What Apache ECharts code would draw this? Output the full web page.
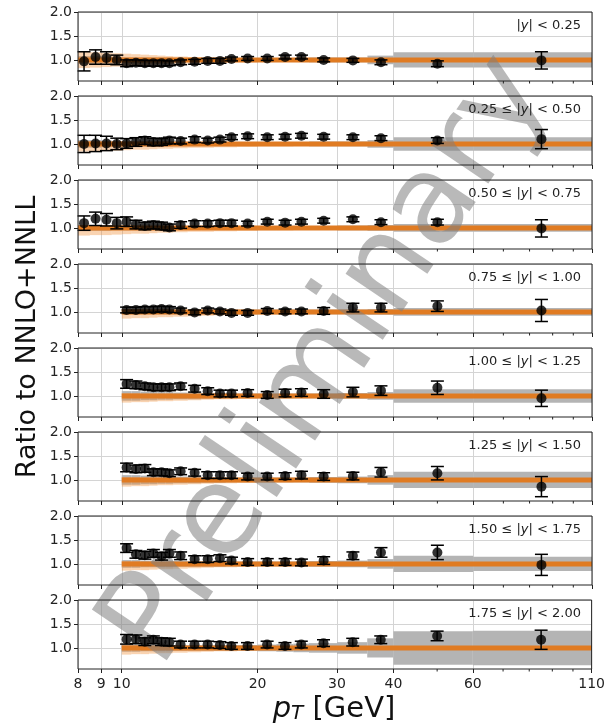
<!DOCTYPE html>
<html>
<head>
<meta charset="utf-8">
<script src="https://cdn.jsdelivr.net/npm/echarts@6/dist/echarts.min.js"></script>
<style>
html, body { margin: 0; padding: 0; background: #fff; }
#chart { width: 608px; height: 727px; }
</style>
</head>
<body>
<div id="chart"></div>
<script>
// pT bin edges (GeV)
var ptEdges = [8, 8.5, 9, 9.5, 10, 10.5, 11, 11.5, 12, 12.5, 13, 14, 15, 16, 17, 18, 20, 22, 24, 26, 30, 35, 40, 60, 110];
var xTicks = [8, 9, 10, 20, 30, 40, 60, 110];
var xMinorTicks = [50, 70, 80, 90, 100];
var yTicks = [1.0, 1.5, 2.0];

var rapidityLabels = [
    '{n||}{i|y}{n|| < 0.25}',
    '{n|0.25 ≤ |}{i|y}{n|| < 0.50}',
    '{n|0.50 ≤ |}{i|y}{n|| < 0.75}',
    '{n|0.75 ≤ |}{i|y}{n|| < 1.00}',
    '{n|1.00 ≤ |}{i|y}{n|| < 1.25}',
    '{n|1.25 ≤ |}{i|y}{n|| < 1.50}',
    '{n|1.50 ≤ |}{i|y}{n|| < 1.75}',
    '{n|1.75 ≤ |}{i|y}{n|| < 2.00}'
];
// index of first pT bin in each panel
var firstBin = [0, 0, 0, 4, 4, 4, 4, 4];

// data / theory ratio and stat. errors
var ratio1 = [0.97, 1.06, 1.04, 1.00, 0.93, 0.94, 0.93, 0.93, 0.93, 0.93, 0.95, 0.96, 0.98, 0.98, 1.02, 1.03, 1.03, 1.06, 1.06, 1.00, 0.99, 0.95, 0.92, 0.99];
var err1   = [0.20, 0.15, 0.13, 0.10, 0.07, 0.06, 0.06, 0.06, 0.06, 0.05, 0.05, 0.05, 0.05, 0.05, 0.04, 0.04, 0.04, 0.04, 0.04, 0.04, 0.04, 0.05, 0.06, 0.18];
var ratio2 = [1.00, 1.01, 1.01, 1.00, 1.01, 1.04, 1.07, 1.04, 1.04, 1.07, 1.06, 1.09, 1.07, 1.09, 1.14, 1.16, 1.14, 1.15, 1.17, 1.15, 1.14, 1.12, 1.07, 1.10];
var err2   = [0.18, 0.17, 0.15, 0.12, 0.10, 0.09, 0.08, 0.08, 0.07, 0.07, 0.06, 0.06, 0.05, 0.05, 0.05, 0.05, 0.05, 0.05, 0.05, 0.05, 0.05, 0.05, 0.06, 0.20];
var ratio3 = [1.10, 1.19, 1.17, 1.10, 1.13, 1.07, 1.04, 1.06, 1.04, 1.01, 1.06, 1.09, 1.09, 1.10, 1.10, 1.09, 1.13, 1.11, 1.13, 1.15, 1.18, 1.12, 1.12, 0.99];
var err3   = [0.15, 0.14, 0.13, 0.12, 0.10, 0.09, 0.08, 0.08, 0.08, 0.07, 0.07, 0.06, 0.06, 0.06, 0.06, 0.05, 0.05, 0.05, 0.05, 0.05, 0.05, 0.05, 0.06, 0.18];
var ratio4 = [1.04, 1.04, 1.05, 1.05, 1.06, 1.05, 1.03, 0.99, 1.03, 1.01, 0.98, 0.98, 1.02, 1.01, 1.01, 1.02, 1.09, 1.09, 1.12, 1.03];
var err4   = [0.06, 0.06, 0.06, 0.06, 0.06, 0.06, 0.05, 0.05, 0.05, 0.05, 0.05, 0.05, 0.05, 0.05, 0.05, 0.07, 0.09, 0.09, 0.11, 0.23];
var ratio5 = [1.25, 1.23, 1.20, 1.18, 1.18, 1.18, 1.20, 1.15, 1.10, 1.05, 1.05, 1.06, 1.02, 1.06, 1.07, 1.04, 1.08, 1.11, 1.17, 0.95];
var err5   = [0.09, 0.08, 0.07, 0.07, 0.07, 0.07, 0.07, 0.07, 0.07, 0.07, 0.07, 0.07, 0.07, 0.08, 0.08, 0.09, 0.10, 0.10, 0.14, 0.17];
var ratio6 = [1.26, 1.23, 1.24, 1.16, 1.16, 1.14, 1.18, 1.15, 1.10, 1.10, 1.10, 1.07, 1.07, 1.08, 1.10, 1.07, 1.08, 1.16, 1.14, 0.86];
var err6   = [0.09, 0.08, 0.08, 0.07, 0.07, 0.07, 0.07, 0.07, 0.07, 0.07, 0.07, 0.07, 0.07, 0.07, 0.08, 0.08, 0.08, 0.10, 0.14, 0.21];
var ratio7 = [1.33, 1.20, 1.18, 1.22, 1.16, 1.22, 1.17, 1.10, 1.10, 1.12, 1.07, 1.04, 1.04, 1.04, 1.03, 1.07, 1.17, 1.24, 1.24, 0.98];
var err7   = [0.09, 0.08, 0.08, 0.08, 0.08, 0.08, 0.08, 0.07, 0.07, 0.07, 0.07, 0.07, 0.07, 0.07, 0.07, 0.08, 0.08, 0.10, 0.15, 0.22];
var ratio8 = [1.18, 1.18, 1.13, 1.17, 1.13, 1.12, 1.07, 1.07, 1.07, 1.06, 1.04, 1.04, 1.07, 1.04, 1.07, 1.10, 1.12, 1.17, 1.25, 1.17];
var err8   = [0.10, 0.09, 0.08, 0.08, 0.08, 0.08, 0.07, 0.07, 0.07, 0.07, 0.07, 0.07, 0.07, 0.07, 0.07, 0.07, 0.08, 0.08, 0.10, 0.20];

// systematic uncertainty (grey band, half width around 1)
var sys1 = [0.08, 0.08, 0.07, 0.06, 0.05, 0.05, 0.05, 0.05, 0.05, 0.05, 0.04, 0.04, 0.04, 0.04, 0.04, 0.04, 0.04, 0.04, 0.04, 0.05, 0.05, 0.09, 0.16, 0.16];
var sys2 = [0.08, 0.08, 0.07, 0.06, 0.05, 0.05, 0.05, 0.05, 0.05, 0.05, 0.04, 0.04, 0.04, 0.04, 0.04, 0.04, 0.04, 0.04, 0.04, 0.05, 0.05, 0.08, 0.14, 0.14];
var sys3 = [0.06, 0.06, 0.06, 0.05, 0.05, 0.05, 0.04, 0.04, 0.04, 0.04, 0.04, 0.04, 0.04, 0.04, 0.04, 0.04, 0.04, 0.04, 0.04, 0.04, 0.05, 0.06, 0.08, 0.08];
var sys4 = [0.06, 0.06, 0.05, 0.05, 0.05, 0.05, 0.05, 0.05, 0.05, 0.05, 0.05, 0.05, 0.05, 0.05, 0.05, 0.05, 0.05, 0.06, 0.08, 0.08];
var sys5 = [0.10, 0.10, 0.09, 0.09, 0.08, 0.08, 0.07, 0.07, 0.06, 0.06, 0.05, 0.05, 0.05, 0.05, 0.05, 0.05, 0.06, 0.08, 0.14, 0.14];
var sys6 = [0.10, 0.10, 0.09, 0.09, 0.08, 0.08, 0.07, 0.07, 0.06, 0.06, 0.05, 0.05, 0.05, 0.05, 0.05, 0.06, 0.07, 0.10, 0.17, 0.17];
var sys7 = [0.08, 0.08, 0.07, 0.07, 0.07, 0.07, 0.06, 0.06, 0.06, 0.06, 0.05, 0.05, 0.05, 0.05, 0.05, 0.06, 0.07, 0.10, 0.17, 0.15];
var sys8 = [0.08, 0.08, 0.07, 0.07, 0.07, 0.07, 0.06, 0.06, 0.06, 0.06, 0.06, 0.06, 0.07, 0.08, 0.09, 0.10, 0.12, 0.20, 0.35, 0.36];

// theory uncertainty (orange band, offsets below / above 1)
var thUp1   = [0.17, 0.16, 0.15, 0.14, 0.13, 0.12, 0.11, 0.10, 0.09, 0.08, 0.07, 0.06, 0.05, 0.05, 0.04, 0.04, 0.03, 0.03, 0.03, 0.03, 0.03, 0.03, 0.03, 0.03];
var thDown1 = [0.17, 0.16, 0.15, 0.14, 0.13, 0.12, 0.11, 0.10, 0.09, 0.09, 0.08, 0.07, 0.06, 0.06, 0.05, 0.05, 0.04, 0.04, 0.03, 0.03, 0.03, 0.03, 0.03, 0.03];
var thUp23   = [0.06, 0.06, 0.05, 0.05, 0.05, 0.05, 0.04, 0.04, 0.04, 0.04, 0.04, 0.03, 0.03, 0.03, 0.03, 0.03, 0.03, 0.03, 0.03, 0.03, 0.03, 0.03, 0.03, 0.03];
var thDown23 = [0.16, 0.15, 0.15, 0.14, 0.13, 0.12, 0.12, 0.11, 0.10, 0.10, 0.09, 0.08, 0.08, 0.07, 0.07, 0.06, 0.05, 0.05, 0.04, 0.04, 0.03, 0.03, 0.03, 0.03];
var thUpB   = [0.06, 0.06, 0.05, 0.05, 0.05, 0.05, 0.04, 0.04, 0.04, 0.04, 0.04, 0.03, 0.03, 0.03, 0.03, 0.03, 0.03, 0.03, 0.03, 0.03];
var thDownB = [0.14, 0.13, 0.13, 0.12, 0.11, 0.11, 0.10, 0.09, 0.08, 0.07, 0.07, 0.06, 0.05, 0.05, 0.04, 0.04, 0.03, 0.03, 0.03, 0.03];

var panels = [
    { ratio: ratio1, err: err1, sys: sys1, up: thUp1, down: thDown1 },
    { ratio: ratio2, err: err2, sys: sys2, up: thUp23, down: thDown23 },
    { ratio: ratio3, err: err3, sys: sys3, up: thUp23, down: thDown23 },
    { ratio: ratio4, err: err4, sys: sys4, up: thUpB, down: thDownB },
    { ratio: ratio5, err: err5, sys: sys5, up: thUpB, down: thDownB },
    { ratio: ratio6, err: err6, sys: sys6, up: thUpB, down: thDownB },
    { ratio: ratio7, err: err7, sys: sys7, up: thUpB, down: thDownB },
    { ratio: ratio8, err: err8, sys: sys8, up: thUpB, down: thDownB }
];

var Y_MIN = 0.56, Y_MAX = 2.0;
var FONT = '"DejaVu Sans", sans-serif';
var log10 = function(v) { return Math.log(v) / Math.LN10; };

var bandItem = function(color) {
    return function(params, api) {
        var a = api.coord([api.value(0), api.value(3)]);
        var b = api.coord([api.value(1), api.value(2)]);
        return {
            type: 'rect',
            shape: { x: a[0], y: a[1], width: b[0] - a[0], height: b[1] - a[1] },
            style: { fill: color }
        };
    };
};

var errorItem = function(params, api) {
    var x = api.value(0), y = api.value(1), e = api.value(2);
    var t = api.coord([x, y + e]), b = api.coord([x, y - e]);
    var cw = 6.5;
    var st = { stroke: '#000', lineWidth: 1.5 };
    return {
        type: 'group',
        children: [
            { type: 'line', shape: { x1: t[0], y1: t[1], x2: b[0], y2: b[1] }, style: st },
            { type: 'line', shape: { x1: t[0] - cw, y1: t[1], x2: t[0] + cw, y2: t[1] }, style: st },
            { type: 'line', shape: { x1: b[0] - cw, y1: b[1], x2: b[0] + cw, y2: b[1] }, style: st }
        ]
    };
};

var grids = [], xAxes = [], yAxes = [], titles = [], series = [];

panels.forEach(function(p, i) {
    var top = 12 + i * 84;
    grids.push({ left: 78, right: 16, top: top, height: 69 });

    xAxes.push({
        gridIndex: i, type: 'value', min: log10(8), max: log10(110),
        axisLine: { show: false },
        axisTick: { show: true, length: 4, customValues: xTicks.map(log10), lineStyle: { color: '#222' } },
        axisLabel: {
            show: i === panels.length - 1, customValues: xTicks.map(log10),
            formatter: function(v) { return String(Math.round(Math.pow(10, v))); },
            fontSize: 14, color: '#222', margin: 8, fontFamily: FONT
        },
        splitLine: { show: true, lineStyle: { color: '#d4d4d4', width: 1 } }
    });
    yAxes.push({
        gridIndex: i, type: 'value', min: Y_MIN, max: Y_MAX,
        axisLine: { show: false },
        axisTick: { show: true, length: 4, customValues: yTicks, lineStyle: { color: '#222' } },
        axisLabel: {
            customValues: yTicks,
            formatter: function(v) { return v.toFixed(1); },
            fontSize: 14, color: '#222', margin: 6, fontFamily: FONT
        },
        splitLine: { show: true, lineStyle: { color: '#d4d4d4', width: 1 } }
    });

    titles.push({
        text: rapidityLabels[i], right: 27, top: top + 7, padding: 0,
        textStyle: {
            fontWeight: 'normal',
            rich: {
                n: { fontSize: 13, fontFamily: FONT, fontWeight: 'normal', color: '#222' },
                i: { fontSize: 13, fontFamily: FONT, fontWeight: 'normal', fontStyle: 'italic', color: '#222' }
            }
        }
    });

    var sysData = [], thData = [], errData = [], ptData = [];
    for (var j = 0; j < p.ratio.length; j++) {
        var lo = ptEdges[firstBin[i] + j], hi = ptEdges[firstBin[i] + j + 1];
        var xc = log10((lo + hi) / 2);
        sysData.push([log10(lo), log10(hi), 1 - p.sys[j], 1 + p.sys[j]]);
        thData.push([log10(lo), log10(hi), 1 - p.down[j], 1 + p.up[j]]);
        errData.push([xc, p.ratio[j], p.err[j]]);
        ptData.push([xc, p.ratio[j]]);
    }

    series.push({
        type: 'custom', xAxisIndex: i, yAxisIndex: i, z: 1, silent: true,
        renderItem: bandItem('#b4b4b4'), encode: { x: [0, 1], y: [2, 3] }, data: sysData
    });
    series.push({
        type: 'custom', xAxisIndex: i, yAxisIndex: i, z: 2, silent: true,
        renderItem: bandItem('rgba(240,140,50,0.38)'), encode: { x: [0, 1], y: [2, 3] }, data: thData
    });
    series.push({
        type: 'line', xAxisIndex: i, yAxisIndex: i, z: 3, silent: true, symbol: 'none',
        lineStyle: { color: '#e07b22', width: 5 },
        data: [[log10(ptEdges[firstBin[i]]), 1], [log10(110), 1]]
    });
    series.push({
        type: 'custom', xAxisIndex: i, yAxisIndex: i, z: 5, silent: true,
        renderItem: errorItem, encode: { x: 0, y: 1 }, data: errData
    });
    series.push({
        type: 'scatter', xAxisIndex: i, yAxisIndex: i, z: 6, silent: true,
        symbol: 'circle', symbolSize: 10, itemStyle: { color: '#000' }, data: ptData
    });
    // minor ticks on the log axis
    series.push({
        type: 'custom', xAxisIndex: i, yAxisIndex: i, z: 7, silent: true,
        renderItem: function(params, api) {
            var c = api.coord([api.value(0), Y_MIN]);
            return { type: 'line', shape: { x1: c[0], y1: c[1], x2: c[0], y2: c[1] + 2.5 }, style: { stroke: '#222', lineWidth: 1 } };
        },
        data: xMinorTicks.map(function(v) { return [log10(v), Y_MIN]; })
    });
    // frame on top of the bands
    series.push({
        type: 'custom', xAxisIndex: i, yAxisIndex: i, z: 8, silent: true,
        renderItem: function(params) {
            var c = params.coordSys;
            return { type: 'rect', shape: { x: c.x, y: c.y, width: c.width, height: c.height }, style: { fill: null, stroke: '#222', lineWidth: 1 } };
        },
        data: [[log10(8), Y_MIN]]
    });
});

var chart = echarts.init(document.getElementById('chart'), null, { renderer: 'canvas' });
chart.setOption({
    animation: false,
    backgroundColor: '#fff',
    title: titles,
    grid: grids,
    xAxis: xAxes,
    yAxis: yAxes,
    series: series,
    graphic: [
        {
            type: 'text', x: 28, y: 337, rotation: Math.PI / 2,
            style: { text: 'Ratio to NNLO+NNLL', fontSize: 27, fontFamily: FONT, fill: '#111', align: 'center', verticalAlign: 'middle' }
        },
        {
            type: 'text', x: 334, y: 709,
            style: {
                text: '{p|p}{t|T}{n| [GeV]}', align: 'center', verticalAlign: 'middle',
                rich: {
                    p: { fontSize: 29, fontFamily: FONT, fontStyle: 'italic', fill: '#111' },
                    t: { fontSize: 20, fontFamily: FONT, fontStyle: 'italic', fill: '#111', verticalAlign: 'bottom' },
                    n: { fontSize: 29, fontFamily: FONT, fill: '#111' }
                }
            }
        },
        {
            // watermark: above the bands, below the data points
            type: 'text', x: 329, y: 362, rotation: 56 * Math.PI / 180, z: 4,
            style: { text: 'Preliminary', fontSize: 124, fontFamily: FONT, fill: 'rgba(128,128,128,0.55)', align: 'center', verticalAlign: 'middle' }
        }
    ]
});
</script>
</body>
</html>
